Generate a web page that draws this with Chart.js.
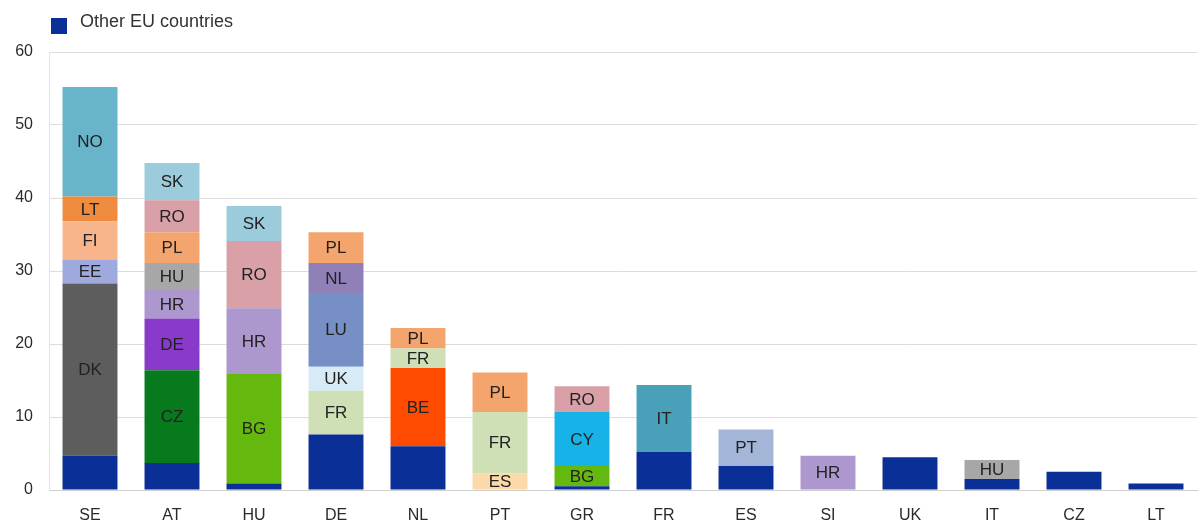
<!DOCTYPE html>
<html>
<head>
<meta charset="utf-8">
<script src="https://cdn.jsdelivr.net/npm/chart.js@4"></script>
<style>
html,body{margin:0;padding:0;background:#fff;}
#wrap{width:1202px;height:523px;position:relative;}
</style>
</head>
<body>
<div id="wrap"><canvas id="c" width="1202" height="523"></canvas></div>
<script>
// Categories (reporting countries)
const categories = ['SE','AT','HU','DE','NL','PT','GR','FR','ES','SI','UK','IT','CZ','LT'];
const yTicks = [0,10,20,30,40,50,60];

// Series values, one array per partner country (null = no segment)
//                 SE    AT    HU    DE    NL    PT    GR    FR    ES    SI    UK    IT    CZ    LT
const otherEU = [4.7,  3.7,  0.9,  7.6,  6.0,  null, 0.5,  5.2,  3.3,  null, 4.5,  1.5,  2.5,  0.9];
const BE      = [null, null, null, null, 10.7, null, null, null, null, null, null, null, null, null];
const BG      = [null, null, 15.0, null, null, null, 2.8,  null, null, null, null, null, null, null];
const CY      = [null, null, null, null, null, null, 7.4,  null, null, null, null, null, null, null];
const CZ      = [null, 12.7, null, null, null, null, null, null, null, null, null, null, null, null];
const DE      = [null, 7.1,  null, null, null, null, null, null, null, null, null, null, null, null];
const DK      = [23.6, null, null, null, null, null, null, null, null, null, null, null, null, null];
const EE      = [3.2,  null, null, null, null, null, null, null, null, null, null, null, null, null];
const ES      = [null, null, null, null, null, 2.3,  null, null, null, null, null, null, null, null];
const FI      = [5.3,  null, null, null, null, null, null, null, null, null, null, null, null, null];
const FR      = [null, null, null, 6.0,  2.7,  8.4,  null, null, null, null, null, null, null, null];
const UK      = [null, null, null, 3.3,  null, null, null, null, null, null, null, null, null, null];
const LU      = [null, null, null, 10.1, null, null, null, null, null, null, null, null, null, null];
const LT      = [3.4,  null, null, null, null, null, null, null, null, null, null, null, null, null];
const NL      = [null, null, null, 4.1,  null, null, null, null, null, null, null, null, null, null];
const NO      = [15.0, null, null, null, null, null, null, null, null, null, null, null, null, null];
const HR      = [null, 3.9,  9.0,  null, null, null, null, null, null, 4.7,  null, null, null, null];
const HU      = [null, 3.7,  null, null, null, null, null, null, null, null, null, 2.6,  null, null];
const IT      = [null, null, null, null, null, null, null, 9.2,  null, null, null, null, null, null];
const PL      = [null, 4.2,  null, 4.2,  2.8,  5.4,  null, null, null, null, null, null, null, null];
const PT      = [null, null, null, null, null, null, null, null, 5.0,  null, null, null, null, null];
const RO      = [null, 4.4,  9.2,  null, null, null, 3.5,  null, null, null, null, null, null, null];
const SK      = [null, 5.1,  4.8,  null, null, null, null, null, null, null, null, null, null, null];

// Stacking order (bottom to top) with colours
const series = [
  ['Other EU countries', otherEU, '#0a2f97'],
  ['BE', BE, '#ff4b00'],
  ['BG', BG, '#65b80e'],
  ['CY', CY, '#16b2e8'],
  ['CZ', CZ, '#087a1e'],
  ['DE', DE, '#8a3acb'],
  ['DK', DK, '#5d5d5d'],
  ['EE', EE, '#9ea9de'],
  ['ES', ES, '#fcd9a8'],
  ['FI', FI, '#f8b58c'],
  ['FR', FR, '#cfdfb6'],
  ['UK', UK, '#d7ebf6'],
  ['LU', LU, '#7690c6'],
  ['LT', LT, '#ee8b3e'],
  ['NL', NL, '#8f80b8'],
  ['NO', NO, '#67b4cb'],
  ['HR', HR, '#ad97cf'],
  ['HU', HU, '#a7a7a7'],
  ['IT', IT, '#49a0b9'],
  ['PL', PL, '#f4a46d'],
  ['PT', PT, '#a3b6d8'],
  ['RO', RO, '#d9a1a7'],
  ['SK', SK, '#9ccbdb']
];

const FONT = '"Liberation Sans", Arial, sans-serif';

const datasets = series.map(([label, data, color]) => ({
  label, data, backgroundColor: color, borderWidth: 0,
  barPercentage: 0.67, categoryPercentage: 1.0, stack: 's'
}));

const segmentLabels = {
  id: 'segmentLabels',
  afterDatasetsDraw(chart) {
    const ctx = chart.ctx;
    ctx.save();
    ctx.font = '17px ' + FONT;
    ctx.fillStyle = '#222';
    ctx.textAlign = 'center';
    ctx.textBaseline = 'middle';
    chart.data.datasets.forEach((ds, i) => {
      if (i === 0) return;
      const meta = chart.getDatasetMeta(i);
      meta.data.forEach((el, j) => {
        if (ds.data[j] == null) return;
        const p = el.getProps(['x','y','base'], true);
        ctx.fillText(ds.label, p.x, (p.y + p.base) / 2 + 1);
      });
    });
    ctx.restore();
  }
};

const customLegend = {
  id: 'customLegend',
  afterDraw(chart) {
    const ctx = chart.ctx;
    ctx.save();
    ctx.fillStyle = series[0][2];
    ctx.fillRect(51, 18, 16, 16);
    ctx.font = '18px ' + FONT;
    ctx.fillStyle = '#333';
    ctx.textAlign = 'left';
    ctx.textBaseline = 'middle';
    ctx.fillText(series[0][0], 80, 22);
    ctx.restore();
  }
};

new Chart(document.getElementById('c'), {
  type: 'bar',
  data: { labels: categories, datasets },
  options: {
    responsive: false,
    animation: false,
    layout: { padding: { top: 52, right: 5, left: 0, bottom: 0 } },
    plugins: { legend: { display: false }, tooltip: { enabled: false } },
    scales: {
      x: {
        stacked: true,
        grid: { display: false, drawTicks: false },
        border: { color: '#cfcfcf' },
        afterFit(scale) { scale.height = 33; },
        ticks: { color: '#2a2a2a', font: { size: 16, family: FONT }, padding: 16 }
      },
      y: {
        stacked: true,
        min: 0, max: 60,
        afterBuildTicks(scale) { scale.ticks = yTicks.map(v => ({ value: v })); },
        afterFit(scale) { scale.width = 49; },
        grid: { color: '#dcdcdc', lineWidth: 1, drawTicks: false },
        border: { display: true, color: '#e3e3e3' },
        ticks: { color: '#2a2a2a', font: { size: 16, family: FONT }, padding: 16 }
      }
    }
  },
  plugins: [segmentLabels, customLegend]
});
</script>
</body>
</html>
